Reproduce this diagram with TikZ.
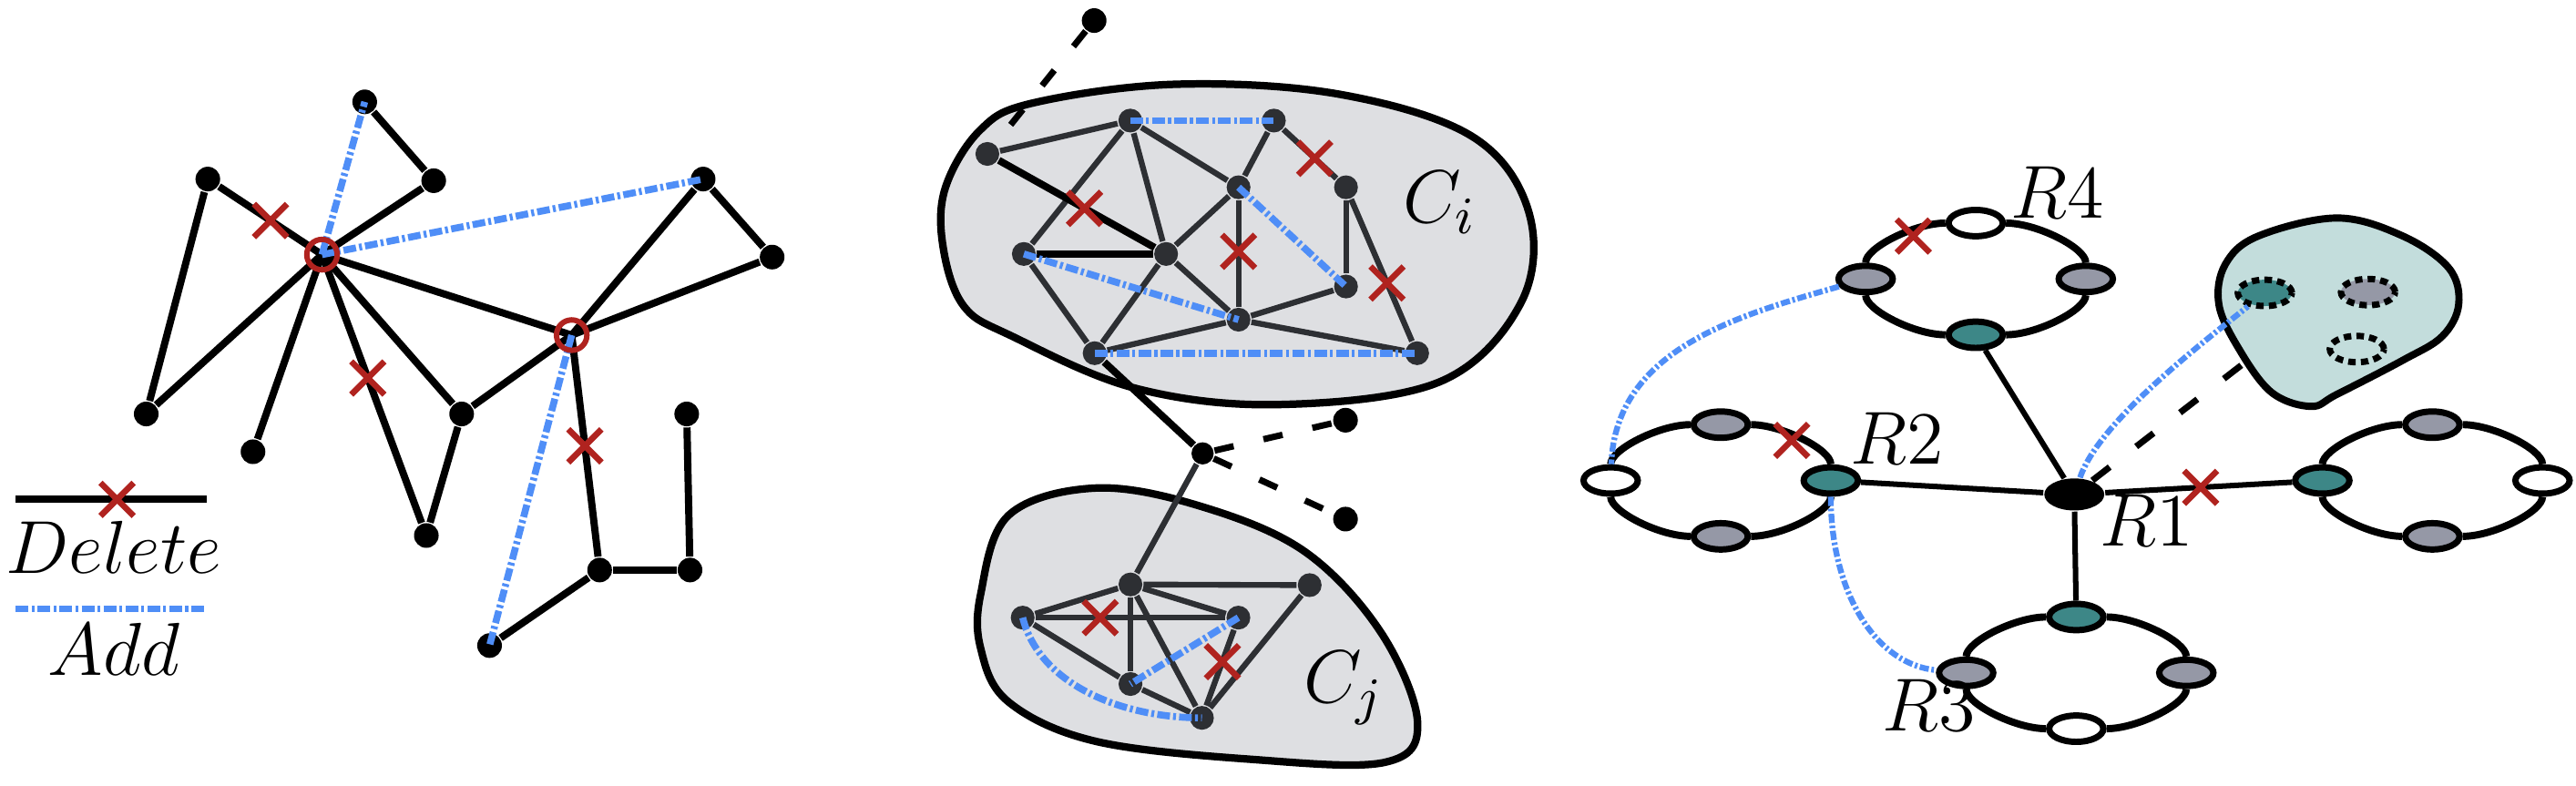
\documentclass[tikz,border=0pt]{standalone}
\usepackage{fix-cm}
\usepackage{amsmath,amssymb}
\usepackage{xcolor}
\usepackage{tikz}
\usetikzlibrary{shapes.misc,shapes.geometric}
\definecolor{delred}{HTML}{B0231F}
\definecolor{addblue}{HTML}{4F8EF7}
\definecolor{blobgray}{HTML}{DEDFE2}
\definecolor{nodedark}{HTML}{2D2F33}
\definecolor{ringteal}{HTML}{3D8787}
\definecolor{ringgray}{HTML}{9598A6}
\definecolor{blobteal}{HTML}{C3DDDC}
\newcommand{\LabelFont}{\fontsize{13}{15.5}\selectfont}
\tikzset{
  vert/.style={circle,fill=black,inner sep=0pt,minimum size=1.5mm},
  cvert/.style={circle,fill=nodedark,inner sep=0pt,minimum size=1.45mm},
  hubring/.style={circle,draw=delred,line width=0.95pt,inner sep=0pt,minimum size=1.85mm},
  link/.style={line width=1.25pt},
  clink/.style={nodedark,line width=1pt},
  addline/.style={addblue,line width=1.2pt,dash pattern=on 2.2pt off 0.55pt on 0.5pt off 0.55pt},
  addcurve/.style={addblue,line width=1pt,dash pattern=on 1.6pt off 0.45pt on 0.45pt off 0.45pt},
  dashlink/.style={line width=1.1pt,dash pattern=on 3.4pt off 5.3pt},
  delx/.style={cross out,draw=delred,line width=1.05pt,inner sep=0pt,minimum size=1.65mm},
  ringnode/.style={ellipse,draw,line width=1.1pt,inner sep=0pt,minimum width=3.3mm,minimum height=1.6mm},
  ghost/.style={ringnode,dash pattern=on 1.3pt off 0.9pt},
  ringarc/.style={line width=1.25pt},
  spoke/.style={line width=0.95pt},
  lbl/.style={inner sep=0pt,font=\LabelFont,anchor=base},
}

\begin{document}
\begin{tikzpicture}[x=0.1mm,y=0.1mm]
  \useasboundingbox (0,0) rectangle (1568,-478);
  % left panel
  \foreach \n/\x/\y in {n1/222/62,n2/264/110,n3/126.5/109,n4/428/109,n5/470/156.5,n6/89/252,n7/154/275,n8/281/252,n9/259.5/326,n10/418/252,n11/365/347,n12/420/347,n13/298/393}
    \node[vert] (\n) at (\x,-\y) {};
  \coordinate (hA) at (196,-155);
  \coordinate (hB) at (348,-204);
  \foreach \p/\q in {n1/n2,n2/hA,n3/n6,n6/hA,n7/hA,n9/n8,n8/hA,hA/hB,n8/hB,hB/n4,n4/n5,n5/hB,n11/n12,n12/n10,n11/n13}
    \draw[link] (\p) -- (\q);
  \draw[link] (n3) -- node[delx,pos=.5] (x1) {} (hA);
  \draw[link] (hA) -- node[delx,pos=.46] (x2) {} (n9);
  \draw[link] (hB) -- node[delx,pos=.5] (x3) {} (n11);
  \foreach \p/\q in {hA/n1,hA/n4,hB/n13}
    \draw[addline] (\p) -- (\q.center);
  \node[hubring] (hAring) at (hA) {};
  \node[hubring] (hBring) at (hB) {};
  % legend
  \coordinate (dl) at (9.6,-304);
  \coordinate (dr) at (126,-304);
  \draw[link] (dl) -- node[delx,pos=.53] (xleg) {} (dr);
  \node[lbl] (deltext) at (69.2,-348.9) {$Delete$};
  \coordinate (al) at (9.6,-370.6);
  \coordinate (ar) at (126,-370.6);
  \draw[addline] (al) -- (ar);
  \node[lbl] (addtext) at (69.3,-411.2) {$Add$};

  % middle panel
  \filldraw[fill=blobgray,line width=1.3pt] plot[smooth cycle,tension=0.6] coordinates {(596.5,-79.3) (575.4,-114.4) (574,-150) (586.6,-186.3) (616.3,-204.8) (690.5,-236.2) (777.2,-246.3) (876.2,-232.5) (925.7,-184.5) (930.6,-129.2) (896,-83) (814.3,-57.2) (715.3,-51.3) (628.7,-62.7)};
  \filldraw[fill=blobgray,line width=1.3pt] plot[smooth cycle,tension=0.6] coordinates {(597,-361.3) (614,-313.6) (667,-297.1) (730.5,-308.1) (794.1,-335.7) (840.7,-385.2) (862.9,-440.2) (842.8,-464.1) (762.3,-462.3) (667,-451.3) (614,-427.4) (597,-395)};
  \foreach \n/\x/\y in {k1/601/93.7,k2/688/73.4,k3/775.4/73.4,k4/753.9/114,k5/819.3/114,k6/623.2/154.6,k7/709.8/154.6,k8/753.9/194.6,k9/819.3/174.4,k10/666.3/215,k11/862.6/215,s1/688.1/355.8,s2/797.2/356.2,s3/622.5/376,s4/753.8/376,s5/688.1/416.4,s6/731.6/437}
    \node[cvert] (\n) at (\x,-\y) {};
  \node[vert,minimum size=1.35mm] (cv) at (732,-276) {};
  \foreach \n/\x/\y in {o1/666/12.5,o2/819/255.8,o3/819/316}
    \node[vert] (\n) at (\x,-\y) {};
  \draw[dashlink] (o1) -- (k1);
  \draw[dashlink] (cv) -- (o2);
  \draw[dashlink] (cv) -- (o3);
  \foreach \p/\q in {k1/k2,k2/k6,k2/k7,k2/k4,k3/k4,k4/k7,k5/k9,k6/k10,k7/k10,k7/k8,k8/k9,k8/k10,k8/k11,cv/s1,s1/s2,s1/s3,s1/s4,s1/s5,s1/s6,s3/s5,s5/s6,s2/s6}
    \draw[clink] (\p) -- (\q);
  \draw[link] (k6) -- (k7);
  \draw[link] (k10) -- (cv);
  \draw[link] (k1) -- node[delx,pos=.55] (x4) {} (k7);
  \draw[clink] (k3) -- node[delx,pos=.59] (x5) {} (k5);
  \draw[clink] (k4) -- node[delx,pos=.48] (x6) {} (k8);
  \draw[clink] (k5) -- node[delx,pos=.59] (x7) {} (k11);
  \draw[clink] (s3) -- node[delx,pos=.34] (x8) {} (s4);
  \draw[clink] (s4) -- node[delx,pos=.42] (x9) {} (s6);
  \foreach \p/\q in {k2/k3,k4/k9,k6/k8,k10/k11,s4/s5}
    \draw[addline] (\p.center) -- (\q.center);
  \draw[addline] (s3.center) .. controls +(10,-40) and +(-50,0) .. (s6.center);
  \node[lbl] (labCi) at (876.5,-135.5) {$C_i$};
  \node[lbl] (labCj) at (818,-428) {$C_j$};

  % right panel
  \coordinate (blobmouth) at (1366,-221);
  \node[fill=black,ellipse,inner sep=0pt,minimum width=3.65mm,minimum height=1.95mm] (Rone) at (1262.6,-301) {};
  \draw[dashlink,dash pattern=on 3.8pt off 5.8pt] (Rone) -- (blobmouth);
  \filldraw[fill=blobteal,line width=1.25pt] plot[smooth cycle,tension=0.6] coordinates {(1406.6,-247.4) (1382.6,-238.8) (1362.6,-212) (1350.6,-185.2) (1354.6,-160.8) (1374.6,-143.7) (1422.6,-132.7) (1462.6,-143.7) (1490.6,-163.2) (1496.6,-185.2) (1486.6,-204.7) (1462.6,-219.3) (1422.6,-240)};
  \node[ghost,fill=ringteal] (ghT) at (1378.6,-178.3) {};
  \node[ghost,fill=ringgray] (ghG) at (1441.4,-177.8) {};
  \node[ghost] (ghW) at (1434.6,-212.5) {};
  \foreach \r/\cx/\cy/\fl/\ft/\fr/\fb in {Rfour/1202.6/-169.8/ringgray/white/ringgray/ringteal,Rtwo/1047.4/-292.5/white/ringgray/ringteal/ringgray,Rfar/1480.6/-292.5/ringteal/ringgray/white/ringgray,Rthree/1263.8/-409.6/ringgray/ringteal/ringgray/white}{
    \node[ringnode,fill=\fl] (\r-l) at (\cx-67,\cy) {};
    \node[ringnode,fill=\ft] (\r-t) at (\cx,\cy+34) {};
    \node[ringnode,fill=\fr] (\r-r) at (\cx+67,\cy) {};
    \node[ringnode,fill=\fb] (\r-b) at (\cx,\cy-34) {};
    \draw[ringarc] (\r-l) .. controls +(0,19) and +(-37,0) .. (\r-t);
    \draw[ringarc] (\r-t) .. controls +(37,0) and +(0,19) .. (\r-r);
    \draw[ringarc] (\r-r) .. controls +(0,-19) and +(37,0) .. (\r-b);
    \draw[ringarc] (\r-b) .. controls +(-37,0) and +(0,-19) .. (\r-l);
  }
  \draw[spoke] (Rone) -- (Rfour-b);
  \draw[spoke] (Rone) -- (Rtwo-r);
  \draw[spoke] (Rone) -- (Rthree-t);
  \draw[spoke] (Rone) -- node[delx,pos=.51] (x10) {} (Rfar-l);
  \node[delx] (x11) at (1164.6,-143.7) {};
  \node[delx] (x12) at (1090.6,-268.1) {};
  \draw[addcurve] (Rfour-l) .. controls +(-77,-22) and +(3,80) .. (Rtwo-l);
  \draw[addcurve] (Rtwo-r) .. controls +(0,-68) and +(-55,5) .. (Rthree-l);
  \draw[addcurve] (Rone) .. controls +(15,44) and +(-40,-32) .. (ghT);
  \node[lbl] (labR4) at (1252.5,-133) {$R4$};
  \node[lbl] (labR2) at (1154.6,-282.5) {$R2$};
  \node[lbl] (labR1) at (1306.6,-332.5) {$R1$};
  \node[lbl] (labR3) at (1174.2,-444.9) {$R3$};
\end{tikzpicture}
\end{document}
